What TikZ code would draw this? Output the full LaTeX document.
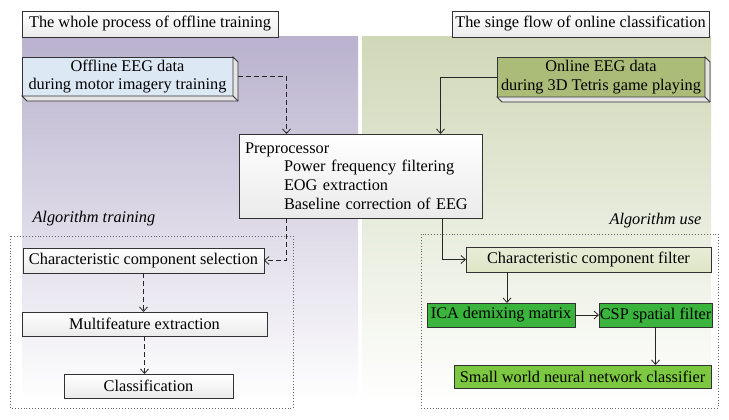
\documentclass[tikz,border=0pt]{standalone}
\usepackage{fontspec}
\setmainfont{Liberation Serif}
\usetikzlibrary{calc,arrows.meta}

\definecolor{bgleft}{RGB}{186,178,206}
\definecolor{bgright}{RGB}{208,216,184}
\definecolor{offblue}{RGB}{220,232,244}
\definecolor{onolive}{RGB}{170,188,120}
\definecolor{filtolive}{RGB}{222,229,198}
\definecolor{icagreen}{RGB}{58,180,60}
\definecolor{swgreen}{RGB}{124,200,64}
\definecolor{edge}{RGB}{50,50,50}

\begin{document}
\begin{tikzpicture}[x=1pt,y=-1pt,
  font=\fontsize{16.3}{18.7}\selectfont,
  box/.style={draw=edge, line width=0.8pt, inner sep=0pt, outer sep=0pt,
    anchor=north west, align=center},
  plainbox/.style={box, top color=white, bottom color=black!8},
  ext/.style={draw=edge, line width=0.8pt, fill=black!10},
  zone/.style={draw=black!60, line width=0.9pt, dotted},
  arr/.style={draw=black!85, line width=0.8pt,
    -{Straight Barb[length=4.5pt,width=8pt,line width=0.8pt]}},
  dasharr/.style={arr, dash pattern=on 5pt off 3pt},
  zonelabel/.style={font=\fontsize{16.3}{18.7}\selectfont\itshape}
]

\useasboundingbox (0,0) rectangle (729,420);

% Backgrounds of the two halves
\fill[top color=bgleft, bottom color=white] (22,37) rectangle (358,402);
\fill[top color=bgright, bottom color=white] (362,37) rectangle (711,402);

% Titles
\node[plainbox, minimum width=256, minimum height=26] (titleoff) at (22,11)
  {The whole process of offline training};
\node[plainbox, minimum width=257, minimum height=26] (titleon) at (452,11)
  {The singe flow of online classification};

% Data sources (with bevelled edge)
\node[box, fill=offblue, minimum width=211, minimum height=39] (off) at (22,57)
  {Offline EEG data\\during motor imagery training};
\draw[ext] (off.north east) -- ++(5,5) -- ($(off.south east)+(5,5)$)
  -- ($(off.south west)+(5,5)$) -- (off.south west) -- (off.south east) -- cycle;
\draw[edge, line width=0.8pt] (off.south east) -- ++(5,5);

\node[box, fill=onolive, minimum width=208, minimum height=40] (on) at (497,57)
  {Online EEG data\\during 3D Tetris game playing};
\draw[ext] (on.north east) -- ++(5,5) -- ($(on.south east)+(5,5)$)
  -- ($(on.south west)+(5,5)$) -- (on.south west) -- (on.south east) -- cycle;
\draw[edge, line width=0.8pt] (on.south east) -- ++(5,5);

% Preprocessor
\node[plainbox, minimum width=243, minimum height=84, inner xsep=6pt,
  text width=231, align=left] (pre) at (239,134)
  {Preprocessor\\
   \hspace*{39pt}Power frequency filtering\\
   \hspace*{39pt}EOG extraction\\
   \hspace*{39pt}Baseline correction of EEG};

% Algorithm training (left)
\node[zonelabel, anchor=west] (algtrain) at (29,219) {Algorithm training};
\draw[zone] (10,236) rectangle (293,408);
\node[plainbox, minimum width=241, minimum height=25] (sel) at (23,248)
  {Characteristic component selection};
\node[plainbox, minimum width=245, minimum height=24] (mf) at (22,312)
  {Multifeature extraction};
\node[plainbox, minimum width=169, minimum height=24] (cls) at (64,374)
  {Classification};

% Algorithm use (right)
\node[zonelabel, anchor=east] (alguse) at (705,221) {Algorithm use};
\draw[zone] (421,234) rectangle (718,408);
\node[box, top color=filtolive!70, bottom color=filtolive,
  minimum width=245, minimum height=25] (filt) at (466,247)
  {Characteristic component filter};
\node[box, fill=icagreen, minimum width=148, minimum height=24] (ica) at (427,303)
  {ICA demixing matrix};
\node[box, fill=icagreen, minimum width=113, minimum height=24] (csp) at (599,303)
  {CSP spatial filter};
\node[box, fill=swgreen, minimum width=257, minimum height=23] (sw) at (454,365)
  {Small world neural network classifier};

% Connectors
\coordinate (preinL) at ($(pre.north)+(-74,0)$);
\coordinate (preinR) at ($(pre.north)+(80,0)$);
\coordinate (preoutL) at ($(pre.south)+(-74,0)$);
\coordinate (preoutR) at ($(pre.south)+(82,0)$);
\coordinate (icain) at ($(ica.north)+(6,0)$);

\draw[dasharr] ($(off.east)+(5,0)$) -| (preinL);
\draw[arr] (on.west) -| (preinR);
\draw[dasharr] (preoutL) |- (sel.east);
\draw[dasharr] (sel.south) -- (sel.south |- mf.north);
\draw[dasharr] (mf.south) -- (mf.south |- cls.north);
\draw[arr] (preoutR) |- (filt.west);
\draw[arr] (filt.south -| icain) -- (icain);
\draw[arr] (ica.east) -- (csp.west);
\draw[arr] (csp.south) -- (csp.south |- sw.north);

\end{tikzpicture}
\end{document}
